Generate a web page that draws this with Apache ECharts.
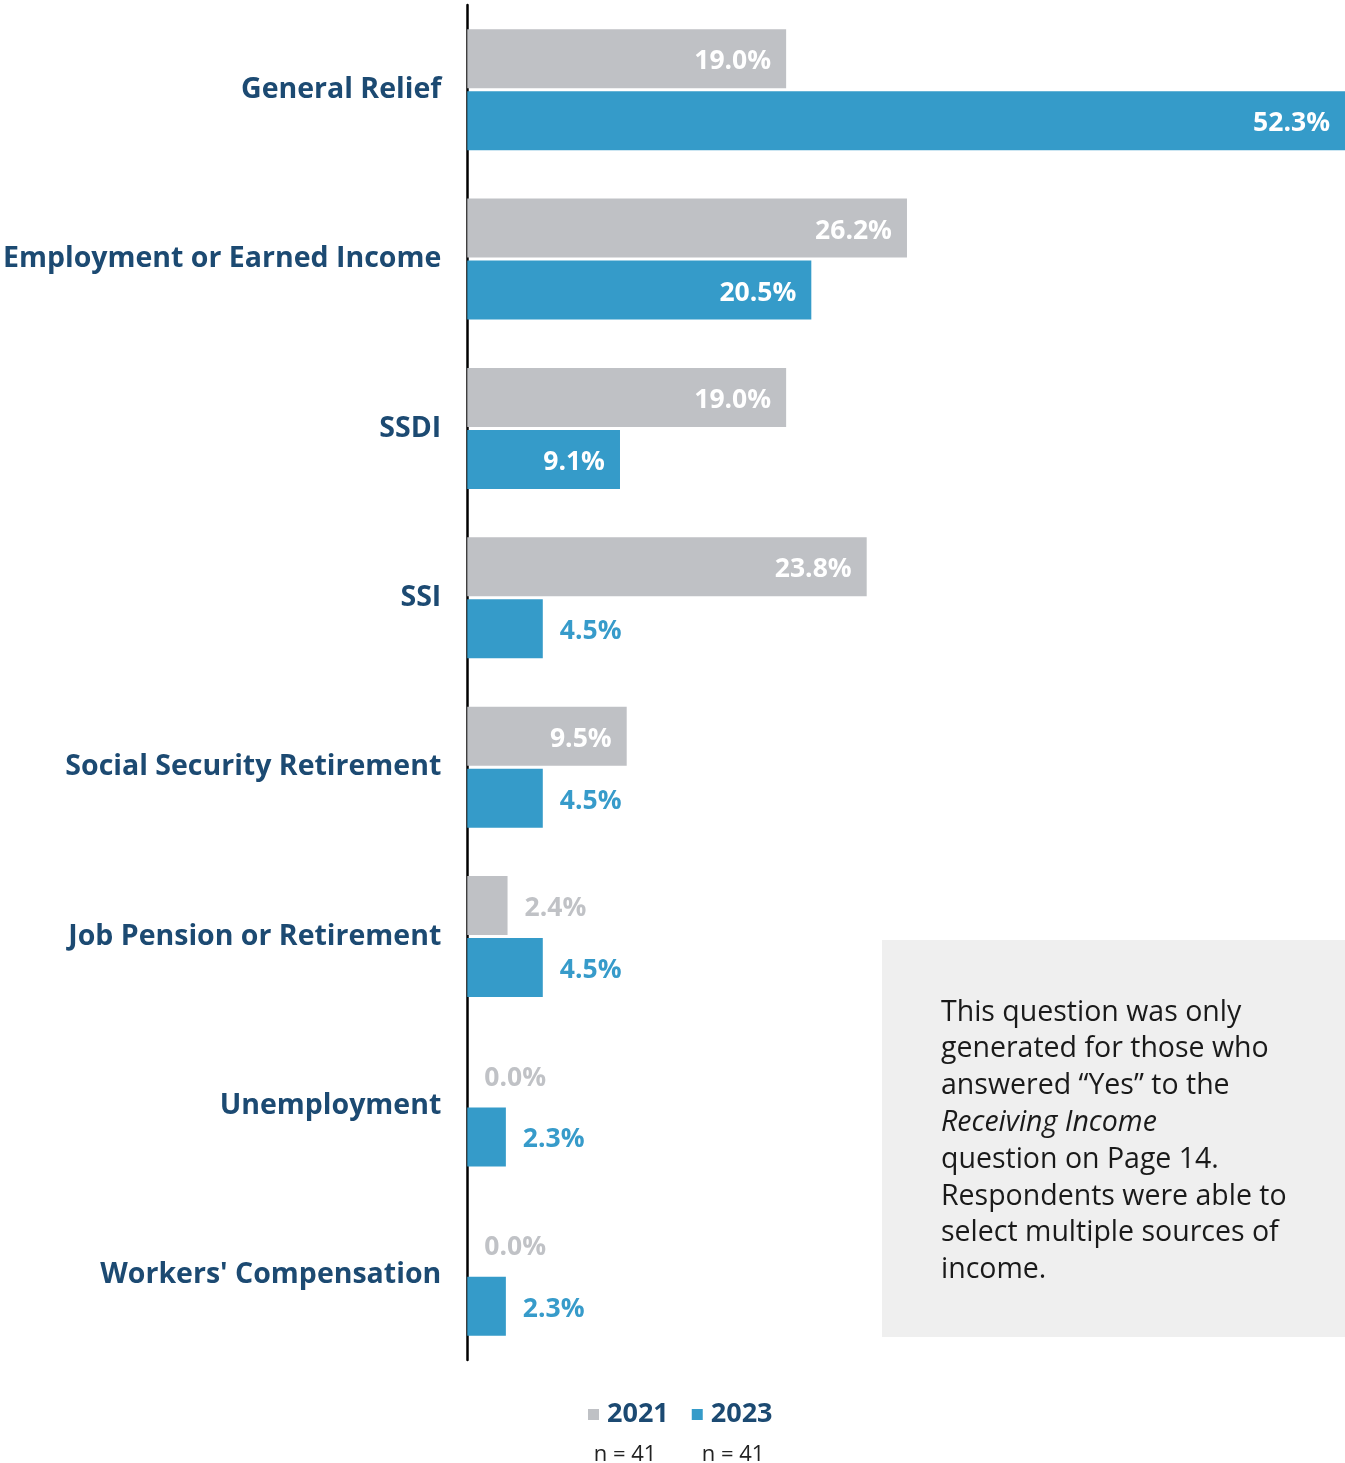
<!DOCTYPE html>
<html>
<head>
<meta charset="utf-8">
<script src="https://cdn.jsdelivr.net/npm/echarts@6/dist/echarts.min.js"></script>
<style>html,body{margin:0;padding:0;background:#fff}#c{width:1345px;height:1463px}</style>
</head>
<body>
<div id="c"></div>
<script>
const categories = ['General Relief','Employment or Earned Income','SSDI','SSI','Social Security Retirement','Job Pension or Retirement','Unemployment',"Workers' Compensation"];
const values2021 = [19.0, 26.2, 19.0, 23.8, 9.5, 2.4, 0.0, 0.0];
const values2023 = [52.3, 20.5, 9.1, 4.5, 4.5, 4.5, 2.3, 2.3];
const seriesNames = ['2021', '2023'];
const sampleSizes = ['n = 41', 'n = 41'];
const noteLines = ['This question was only','generated for those who','answered \u201cYes\u201d to the','Receiving Income','question on Page 14.','Respondents were able to','select multiple sources of','income.'];

const NAVY = '#1c4a72', GREY = '#bfc1c5', BLUE = '#359bc9';
const FONT = '"Open Sans", sans-serif';

function mkData(vals, color, smallColor) {
  return vals.map(v => ({
    value: v,
    label: v >= 9
      ? { position: 'insideRight', color: '#fff', distance: 15 }
      : { position: 'right', color: smallColor, distance: 17 }
  }));
}

const chart = echarts.init(document.getElementById('c'), null, { renderer: 'canvas' });
chart.setOption({
  animation: false,
  textStyle: { fontFamily: FONT },
  grid: { left: 467, right: 0, top: 5, bottom: 103 },
  xAxis: { type: 'value', min: 0, max: 52.3, show: false },
  yAxis: {
    type: 'category', data: categories, inverse: true,
    axisLine: { show: true, lineStyle: { color: '#000', width: 2.5 } },
    axisTick: { show: false },
    axisLabel: { margin: 26, fontSize: 28.5, fontWeight: 'bold', color: NAVY, fontFamily: FONT, padding: [8, 0, 0, 0] }
  },
  legend: {
    data: seriesNames, left: 583, top: 1396, icon: 'rect', itemWidth: 11, itemHeight: 11, itemGap: 23,
    textStyle: { fontSize: 27, fontWeight: 'bold', color: NAVY, fontFamily: FONT, padding: [0, 0, 0, 3] }
  },
  series: [
    { name: seriesNames[0], type: 'bar', barWidth: 59, barGap: '5%', itemStyle: { color: GREY },
      label: { show: true, formatter: p => p.value.toFixed(1) + '%', fontSize: 26.5, fontWeight: 'bold', fontFamily: FONT, offset: [0, 3] },
      data: mkData(values2021, GREY, '#c0c2c6') },
    { name: seriesNames[1], type: 'bar', barWidth: 59, barGap: '5%', itemStyle: { color: BLUE },
      label: { show: true, formatter: p => p.value.toFixed(1) + '%', fontSize: 26.5, fontWeight: 'bold', fontFamily: FONT, offset: [0, 3] },
      data: mkData(values2023, BLUE, '#379bca') }
  ],
  graphic: [
    { type: 'rect', left: 882, top: 940, shape: { width: 463, height: 397 }, style: { fill: '#efefef' }, z: 1 },
    { type: 'text', left: 941, top: 998, z: 2,
      style: {
        text: noteLines.map(l => (l === 'Receiving Income' ? '{i|' : '{n|') + l + '}').join('\n'),
        rich: {
          n: { fontSize: 28.5, fontFamily: FONT, fill: '#1a1a1a', lineHeight: 36.8 },
          i: { fontSize: 28.5, fontFamily: FONT, fill: '#1a1a1a', fontStyle: 'italic', lineHeight: 36.8 }
        }
      } },
    { type: 'text', x: 625, y: 1455, style: { text: sampleSizes[0], fontSize: 22, fontFamily: FONT, fill: '#222', align: 'center', verticalAlign: 'middle' } },
    { type: 'text', x: 733, y: 1455, style: { text: sampleSizes[1], fontSize: 22, fontFamily: FONT, fill: '#222', align: 'center', verticalAlign: 'middle' } }
  ]
});
</script>
</body>
</html>
